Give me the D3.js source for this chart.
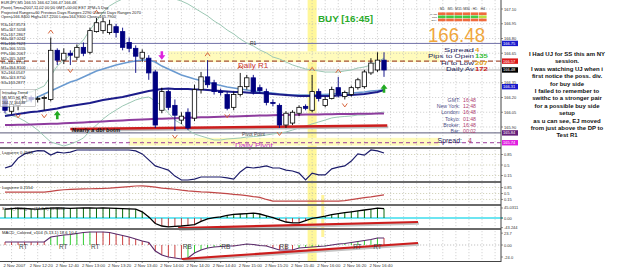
<!DOCTYPE html>
<html><head><meta charset="utf-8">
<script src="https://cdn.jsdelivr.net/npm/d3@7"></script>
<style>
body{margin:0;background:#fff;overflow:hidden}
text{font-family:"Liberation Sans",Arial,sans-serif}
</style></head>
<body><svg id="c" width="625" height="268"></svg>
<script>
// ---------------- DATA ----------------
const opens=[166.18,166.06,166.12,166.16,166.20,166.18,166.19,166.18,166.68,166.58,166.65,166.61,166.71,166.66,166.87,166.88,166.86,166.92,166.87,166.76,166.70,166.60,166.60,166.46,166.07,166.26,166.12,165.97,166.05,165.99,166.28,166.41,166.35,166.26,166.23,166.10,166.23,166.31,166.40,166.30,166.26,166.15,166.12,165.92,165.94,166.04,166.11,166.07,166.26,166.12,166.19,166.30,166.21,166.23,166.30,166.31,166.45,166.48,166.58];
const highs=[166.21,166.15,166.20,166.23,166.22,166.21,166.22,166.81,166.70,166.70,166.68,166.74,166.76,166.91,167.01,167.01,166.99,166.95,166.91,166.81,166.73,166.69,166.63,166.48,166.30,166.28,166.18,166.05,166.09,166.33,166.46,166.58,166.38,166.29,166.26,166.26,166.45,166.43,166.43,166.33,166.29,166.18,166.14,166.06,166.07,166.12,166.13,166.43,166.29,166.21,166.31,166.41,166.27,166.32,166.40,166.48,166.60,166.66,166.66];
const lows=[166.04,166.03,166.07,166.14,166.15,166.15,166.07,166.16,166.53,166.54,166.53,166.58,166.62,166.64,166.86,166.85,166.84,166.81,166.68,166.66,166.45,166.56,166.38,165.89,166.04,166.07,165.86,165.93,165.87,165.96,166.24,166.30,166.23,166.22,166.07,166.07,166.21,166.28,166.23,166.24,166.12,166.11,165.89,165.89,165.92,166.01,166.07,166.05,166.16,166.10,166.18,166.20,166.18,166.21,166.28,166.29,166.43,166.46,166.41];
const closes=[166.07,166.13,166.18,166.21,166.18,166.19,166.20,166.68,166.58,166.65,166.63,166.71,166.65,166.88,166.96,166.97,166.94,166.86,166.71,166.70,166.62,166.66,166.45,165.92,166.26,166.10,166.02,166.01,165.89,166.28,166.41,166.33,166.26,166.25,166.09,166.23,166.31,166.40,166.26,166.27,166.15,166.14,165.92,166.04,166.05,166.10,166.09,166.26,166.19,166.18,166.28,166.23,166.25,166.30,166.38,166.46,166.55,166.58,166.48];

const maNavy=[166.012,166.022,166.032,166.042,166.053,166.058,166.068,166.078,166.088,166.103,166.114,166.124,166.134,166.144,166.159,166.175,166.185,166.195,166.205,166.220,166.236,166.251,166.266,166.276,166.286,166.292,166.286,166.286,166.286,166.281,166.281,166.276,166.271,166.266,166.261,166.256,166.256,166.251,166.246,166.246,166.241,166.236,166.231,166.225,166.220,166.215,166.215,166.215,166.215,166.215,166.215,166.220,166.225,166.225,166.231,166.236,166.246,166.256,166.276];
const maBlue=[166.093,166.114,166.134,166.154,166.175,166.205,166.236,166.266,166.297,166.327,166.358,166.378,166.408,166.439,166.470,166.490,166.510,166.531,166.546,166.561,166.571,166.581,166.581,166.561,166.520,166.490,166.459,166.429,166.408,166.388,166.373,166.358,166.337,166.322,166.307,166.297,166.286,166.276,166.266,166.256,166.251,166.246,166.236,166.231,166.225,166.225,166.225,166.225,166.231,166.231,166.236,166.241,166.246,166.246,166.251,166.256,166.266,166.271,166.276];
const bandUpper=[166.231,166.236,166.241,166.251,166.256,166.286,166.317,166.419,166.520,166.581,166.632,166.714,166.785,166.886,166.978,167.069,167.131,167.171,167.202,167.232,167.242,167.253,167.253,167.242,167.237,167.222,167.202,167.181,167.151,167.110,167.069,167.029,166.978,166.937,166.886,166.846,166.795,166.754,166.724,166.683,166.653,166.612,166.592,166.561,166.531,166.510,166.490,166.480,166.470,166.459,166.459,166.459,166.470,166.480,166.500,166.510,166.531,166.561,166.602];
const bandLower=[166.037,166.017,165.997,165.961,165.920,165.869,165.808,165.748,165.727,165.707,165.727,165.753,165.788,165.859,165.920,165.981,166.032,166.073,166.114,166.144,166.175,166.195,166.205,166.164,166.114,166.042,165.971,165.931,165.869,165.829,165.808,165.788,165.768,165.768,165.778,165.783,165.788,165.798,165.803,165.808,165.819,165.829,165.839,165.849,165.869,165.890,165.910,165.931,165.951,165.971,165.992,166.002,166.007,166.012,166.022,166.022,166.032,166.042,166.053];
const maPurple=[165.920,165.920,165.922,165.924,165.926,165.928,165.930,165.932,165.934,165.937,165.941,165.944,165.947,165.951,165.954,165.957,165.961,165.964,165.967,165.971,165.974,165.977,165.980,165.983,165.985,165.987,165.989,165.992,165.994,165.996,165.998,166.000,166.002,166.004,166.006,166.008,166.010,166.012,166.014,166.016,166.018,166.020,166.022,166.023,166.024,166.025,166.026,166.027,166.028,166.029,166.030,166.031,166.032,166.033,166.034,166.035,166.036,166.037,166.038];

const fractalUp=[7,14,31,36,47,51];
const fractalDown=[2,6,10,26,34,42,52];
const buyArrowBars=[8,58], buyArrowPrices=[166.02,166.29];
const sellArrowBars=[24], sellArrowPrices=[166.63];

const levelNames=["R1","Daily R1","Bid","Pivot Point","Daily Pivot"];
const levelValues=[166.75,166.57,166.48,165.84,165.74];
const boxValues=[166.75,166.57,166.48,166.31,165.84,165.74];
const boxLabels=["166.75","166.57","166.48","166.31","165.84","165.74"];
const dblBottomLine=[[10,165.88],[58.5,165.915]];
const zoneR1={from:25,to:66.5,lo:166.56,hi:166.67};
const zonePivot={from:19,to:66.5,lo:165.71,hi:165.79};
const highlightBar=47;

const priceTicks=[167.10,166.95,166.80,166.65,166.50,166.35,166.20,166.05,165.90];
const priceTickLabels=["167.10","166.95","166.80","166.65","166.50","166.35","166.20","166.05","165.90"];

const dateIndex=[1,5,9,13,17,21,25,29,33,37,41,45,49,53,57];
const dateLabels=["2 Nov 2007","2 Nov 12:20","2 Nov 12:40","2 Nov 13:00","2 Nov 13:20","2 Nov 13:40","2 Nov 14:00","2 Nov 14:20","2 Nov 14:40","2 Nov 15:00","2 Nov 15:20","2 Nov 15:40","2 Nov 16:00","2 Nov 16:20","2 Nov 16:40"];

const laguerreFast=[0.40,0.47,0.73,0.87,0.93,0.98,0.97,0.83,0.93,0.90,0.93,1.0,1.0,1.0,1.0,1.0,1.0,1.0,1.0,1.0,0.97,0.87,0.67,0.47,0.40,0.33,0.13,0.0,0.0,0.03,0.10,0.10,0.10,0.10,0.07,0.03,0.27,0.43,0.40,0.43,0.47,0.40,0.40,0.33,0.30,0.23,0.0,0.23,0.17,0.17,0.37,0.43,0.47,0.63,0.87,0.83,1.0,0.97,0.90];
const laguerreSlow=[0.58,0.58,0.58,0.58,0.58,0.58,0.58,0.63,0.68,0.72,0.74,0.76,0.77,0.78,0.79,0.80,0.82,0.85,0.88,0.91,0.94,0.95,0.92,0.87,0.82,0.79,0.75,0.70,0.66,0.63,0.60,0.58,0.55,0.52,0.49,0.45,0.42,0.38,0.32,0.27,0.15,0.05,0.05,0.05,0.05,0.05,0.05,0.05,0.05,0.05,0.05,0.05,0.08,0.14,0.20,0.26,0.30,0.36,0.42];
const laguerreTicks=[0.85,0.5,0.15], laguerreTickLabels=["0.85","0.5","0.15"];
const stochHisto=[40,42,44,43,41,40,42,44,45,44,43,44,45,45,44,45,44,43,42,41,40,28,5,-25,-36,-40,-38,-36,-33,-30,-15,-4,2,5,12,16,18,20,22,18,10,2,-8,-18,-22,-22,-12,-2,3,8,15,20,24,28,32,36,40,44,42];
const stochTicks=[45.0311,0,-43.244], stochTickLabels=["45.0311","0.00","-43.244"];
const stochTrend=[[26.5,-45],[63.2,-18]];
const macdValues=[6,6,6,6,6,6,6,16,18,20,21,23,25,26,26,26,25,22,19,16,12,8,5,-12,-20,-24,-26,-28,-26,-16,-10,-6,-4,-3,-2,-2,0,2,1,-1,-2,-6,-10,-10,-10,-6,-5,-4,-3,-2,0,2,3,5,7,9,11,14,14];
const macdTicks=[23.7,0,-24], macdTickLabels=["23.7","0.00","-24.0"];
const macdTrend=[[27.1,-28],[63.2,4]];
const divIndex=[2.8,8.9,13.8,27.9,33.8,42.7,53.9,57];
const divLabels=["RT","RT","RT","RB","RB","RB","RT","RT"];

const headerLines=["EURJPY,M5  166.55 166.62 166.47 166.48","Pivots Time=2007.11.02 00:00 GMT+00:00 EST 1PM+5 Day","Projected Ranges=60 Previous Days Ranges 2290 Current Days Ranges 2070","Open=166.8400 High=167.2200 Low=164.9300 Close=165.7900"];
const pivotList=["R3=167.8573","M5=167.5058","R2=167.2867","M4=167.0242","R1=166.7623","M3=166.5555","PP=166.2067","M2=165.3487","S1=164.4733","M1=164.8100","S2=164.0547","M0=163.8750","S3=163.2877"];
const mtfCols=["M1","M5","M15","M30","H1","H4"];
const mtfRows=["MACD","STR","EMA"];
const mtfSignals=[[-1,-1,-1,-1,-1,-1],[1,1,1,1,1,0],[-1,-1,-1,-1,-1,-1]];
const infoLabels=["Spread","Pips to Open","Hi to Low","Daily Av"];
const infoValues=["4","135","207","172"];
const clockLabels=["GMT:","New York:","London:","Tokyo:","Broker:","Bar:"];
const clockValues=["16:48","12:48","16:48","01:48","16:48","00:02"];
const noteLines=["I Had UJ for SS this am NY","session.","I was watching UJ when i","first notice the poss. div.","for buy side","I failed to remember to","swithc to a stronger pair","for a possible buy side","setup","as u can see, EJ moved","from just above the DP to","Test R1"];

// ---------------- DRAW ----------------
const svg=d3.select("#c");
const N=opens.length;
const x=d3.scaleLinear().domain([0,58]).range([5,384]);
const yM=d3.scaleLinear().domain([165.75,167.10]).range([141.75,9]);
const yA=d3.scaleLinear().domain([0,1]).range([180,150]);
const yB=d3.scaleLinear().domain([0,1]).range([202,185]);
const yC=d3.scaleLinear().domain([-45,45]).range([228,208]);
const yD=d3.scaleLinear().domain([-32,32]).range([261,229]);
const AX=501;

svg.append("rect").attr("width",625).attr("height",268).attr("fill","#fff");
const defs=svg.append("defs");
defs.append("clipPath").attr("id","cm").append("rect").attr("x",0).attr("y",0).attr("width",AX).attr("height",147);

// yellow highlight zones
svg.append("rect").attr("x",x(highlightBar)-4.5).attr("y",0).attr("width",9).attr("height",261).attr("fill","#fff79a");
svg.append("rect").attr("x",x(48.4)).attr("y",195).attr("width",3).attr("height",42).attr("fill","#fff49a");
[zoneR1,zonePivot].forEach(z=>{
  svg.append("rect").attr("x",x(z.from)).attr("width",x(z.to)-x(z.from))
    .attr("y",yM(z.hi)).attr("height",yM(z.lo)-yM(z.hi)).attr("fill","#fffbbc");
});

// grids
const gridIdx=d3.range(1,76,2);
svg.append("g").selectAll("line").data(gridIdx).join("line")
  .attr("x1",d=>x(d)).attr("x2",d=>x(d)).attr("y1",0).attr("y2",261)
  .attr("stroke","#b8b8b8").attr("stroke-width",0.6).attr("stroke-dasharray","1.2,1.8");
svg.append("g").selectAll("line").data(priceTicks).join("line")
  .attr("x1",0).attr("x2",AX).attr("y1",d=>yM(d)).attr("y2",d=>yM(d))
  .attr("stroke","#b8b8b8").attr("stroke-width",0.6).attr("stroke-dasharray","1.2,1.8");
[yA,yB].forEach(s=>{
  svg.append("g").selectAll("line").data(laguerreTicks).join("line")
    .attr("x1",0).attr("x2",AX).attr("y1",d=>s(d)).attr("y2",d=>s(d))
    .attr("stroke","#b8b890").attr("stroke-width",0.6).attr("stroke-dasharray","1.2,1.8");
});
svg.append("line").attr("x1",0).attr("x2",AX).attr("y1",yD(0)).attr("y2",yD(0))
  .attr("stroke","#999").attr("stroke-width",0.6).attr("stroke-dasharray","1.2,1.8");

// main panel
const gm=svg.append("g").attr("clip-path","url(#cm)");
const levelStyle={"R1":{c:"#7272a8",w:1,d:null},"Daily R1":{c:"#a5513a",w:1.4,d:"5,3"},"Bid":{c:"#b4b4b4",w:1,d:null},"Pivot Point":{c:"#5a5a78",w:1,d:null},"Daily Pivot":{c:"#9a3c9a",w:1,d:"4,3"}};
levelNames.forEach((n,i)=>{
  const s=levelStyle[n];
  gm.append("line").attr("x1",0).attr("x2",AX).attr("y1",yM(levelValues[i])).attr("y2",yM(levelValues[i]))
    .attr("stroke",s.c).attr("stroke-width",s.w).attr("stroke-dasharray",s.d);
});
const lineM=d3.line().x((d,i)=>x(i)).y(d=>yM(d));
gm.append("path").attr("d",lineM(bandUpper)).attr("fill","none").attr("stroke","#9cc8b4").attr("stroke-width",1);
gm.append("path").attr("d",lineM(bandLower)).attr("fill","none").attr("stroke","#9cc8b4").attr("stroke-width",1);
gm.append("path").attr("d",lineM(maPurple)).attr("fill","none").attr("stroke","#8e3c9e").attr("stroke-width",2);
gm.append("path").attr("d",lineM(maBlue)).attr("fill","none").attr("stroke","#6a9ad0").attr("stroke-width",1.5);
gm.append("path").attr("d",lineM(maNavy)).attr("fill","none").attr("stroke","#1c1c8a").attr("stroke-width",2);
const tl=d3.line().x(d=>x(d[0])).y(d=>yM(d[1]));
gm.append("path").attr("d",tl(dblBottomLine)).attr("transform","translate(1,1.5)").attr("stroke","#bbb").attr("stroke-width",2.5).attr("fill","none");
gm.append("path").attr("d",tl(dblBottomLine)).attr("stroke","#cc1d1d").attr("stroke-width",2.5).attr("fill","none");

// candles
const idx=d3.range(N);
gm.append("g").selectAll("line").data(idx).join("line")
  .attr("x1",i=>x(i)).attr("x2",i=>x(i)).attr("y1",i=>yM(highs[i])).attr("y2",i=>yM(lows[i]))
  .attr("stroke",i=>closes[i]>=opens[i]?"#000":"#000080").attr("stroke-width",0.9);
gm.append("g").selectAll("rect").data(idx).join("rect")
  .attr("x",i=>x(i)-2.2).attr("width",4.4)
  .attr("y",i=>yM(Math.max(opens[i],closes[i])))
  .attr("height",i=>Math.max(0.8,Math.abs(yM(opens[i])-yM(closes[i]))))
  .attr("fill",i=>closes[i]>=opens[i]?"#fff":"#000080")
  .attr("stroke",i=>closes[i]>=opens[i]?"#000":"#000080").attr("stroke-width",0.8);

// fractals
gm.append("g").selectAll("path").data(fractalUp).join("path")
  .attr("d",i=>{const X=x(i),Y=yM(highs[i])-6;return `M${X-2.5},${Y+2}L${X},${Y-1.5}L${X+2.5},${Y+2}`;})
  .attr("fill","none").attr("stroke","#d8663e").attr("stroke-width",1);
gm.append("g").selectAll("path").data(fractalDown).join("path")
  .attr("d",i=>{const X=x(i),Y=yM(lows[i])+6;return `M${X-2.5},${Y-2}L${X},${Y+1.5}L${X+2.5},${Y-2}`;})
  .attr("fill","none").attr("stroke","#d8663e").attr("stroke-width",1);
buyArrowBars.forEach((b,k)=>{
  const X=x(b),Y=yM(buyArrowPrices[k]);
  gm.append("path").attr("d",`M${X-3.5},${Y}L${X},${Y-4.5}L${X+3.5},${Y}L${X+1.3},${Y}L${X+1.3},${Y+4}L${X-1.3},${Y+4}L${X-1.3},${Y}Z`).attr("fill","#22aa22");
});
sellArrowBars.forEach((b,k)=>{
  const X=x(b),Y=yM(sellArrowPrices[k]);
  gm.append("path").attr("d",`M${X-3.5},${Y}L${X},${Y+4.5}L${X+3.5},${Y}L${X+1.3},${Y}L${X+1.3},${Y-4}L${X-1.3},${Y-4}L${X-1.3},${Y}Z`).attr("fill","#dd22dd");
});

function txt(g,X,Y,s,size,fill,opt={}){
  const t=g.append("text").attr("x",X).attr("y",Y).text(s).attr("font-size",size).attr("fill",fill);
  if(opt.anchor)t.attr("text-anchor",opt.anchor);
  if(opt.bold)t.attr("font-weight","bold");
  if(opt.len)t.attr("textLength",opt.len).attr("lengthAdjust","spacingAndGlyphs");
  return t;
}
txt(svg,238,yM(levelValues[1])+7,"Daily R1",8,"#c8322a");
txt(svg,235,yM(levelValues[4])+5,"Daily Pivot",8,"#c832c8");
txt(svg,242,yM(levelValues[3])+3.5,"Pivot Point",4.8,"#444");
txt(svg,250,yM(levelValues[0])+2,"R1",5,"#333");
txt(svg,72,yM(dblBottomLine[0][1])+3,"Nearly a dbl botm",5.6,"#111",{bold:true,len:48});

headerLines.forEach((s,i)=>txt(svg,1,4.3+i*4.6,s,4,"#222"));
pivotList.forEach((s,i)=>txt(svg,1,26+i*4.8,s,4,"#222"));
svg.append("rect").attr("x",0.5).attr("y",89.5).attr("width",35).attr("height",17).attr("fill","#fff").attr("fill-opacity",0.7).attr("stroke","#999").attr("stroke-width",0.5);
txt(svg,2,94,"Intraday Trend",4,"#222");
txt(svg,2,99,"M5  M15  H1  H4",3.6,"#222");
txt(svg,2,104,"164.77 164.30",3.6,"#222");

// BUY signal and MTF table
txt(svg,318,22,"BUY  [16:45]",9.5,"#2aaa2a",{bold:true,len:55});
mtfCols.forEach((c,j)=>txt(svg,438+j*8.2+4,10,c,3.4,"#333",{anchor:"middle"}));
mtfRows.forEach((r,i)=>txt(svg,437,14.8+i*3.1,r,2.5,"#333",{anchor:"end"}));
mtfSignals.forEach((row,i)=>row.forEach((v,j)=>{
  svg.append("rect").attr("x",438+j*8.2).attr("y",12.4+i*3.1).attr("width",7.6).attr("height",2.7)
    .attr("fill",v>0?"#44cc44":v<0?"#f06a3c":"#b8e040");
}));
txt(svg,428,42,"166.48",21,"#f0a63c",{len:57});
const infoColors=["#e8a020","#33bb33","#e0a020","#cc2222"];
const infoLen=[30,46,33,28];
infoLabels.forEach((s,i)=>{
  txt(svg,474,52+i*6.3,s,5.6,"#1e1e5a",{anchor:"end",len:infoLen[i]});
  txt(svg,475,52+i*6.3,infoValues[i],5.6,infoColors[i],{bold:true,len:infoValues[i].length*4.3});
});
clockLabels.forEach((s,i)=>{
  txt(svg,460,102+i*6.2,s,5.2,"#50508a",{anchor:"end"});
  txt(svg,463,102+i*6.2,clockValues[i],5.2,"#b04070");
});
txt(svg,462,142.5,"Spread:",7,"#1e1e5a",{anchor:"end"});
txt(svg,468,142.5,"4",7,"#b04070");

// ---------------- indicator panels ----------------
const gA=svg.append("g");
gA.append("path").attr("d",d3.line().x((d,i)=>x(i)).y(d=>yA(d))(laguerreFast)).attr("fill","none").attr("stroke","#1c1c6a").attr("stroke-width",1.2);
txt(gA,2,154,"Laguerre 0.4533",4.2,"#222");
const gB=svg.append("g");
gB.append("path").attr("d",d3.line().x((d,i)=>x(i)).y(d=>yB(d))(laguerreSlow)).attr("fill","none").attr("stroke","#c04848").attr("stroke-width",1.2);
txt(gB,2,188.5,"Laguerre 0.2154",4.2,"#222");

const gC=svg.append("g");
gC.append("line").attr("x1",0).attr("x2",AX+2).attr("y1",yC(0)).attr("y2",yC(0)).attr("stroke","#3cdcec").attr("stroke-width",1.5);
gC.append("g").selectAll("line").data(idx).join("line")
  .attr("x1",i=>x(i)).attr("x2",i=>x(i)).attr("y1",yC(0)).attr("y2",i=>yC(stochHisto[i]))
  .attr("stroke",i=>stochHisto[i]>=0?"#0a6a0a":"#b84444").attr("stroke-width",1);
gC.append("path").attr("d",d3.line().x((d,i)=>x(i)).y(d=>yC(d))(stochHisto)).attr("fill","none").attr("stroke","#000").attr("stroke-width",1.3);
const tlC=d3.line().x(d=>x(d[0])).y(d=>yC(d[1]));
gC.append("path").attr("d",tlC(stochTrend)).attr("transform","translate(1,1.5)").attr("stroke","#c4c4c4").attr("stroke-width",2.5).attr("fill","none");
gC.append("path").attr("d",tlC(stochTrend)).attr("stroke","#cc1d1d").attr("stroke-width",2.2).attr("fill","none");
txt(gC,2,210,"Stoch_Histogram(14,3,3) 39.0686",4.2,"#222");

const gD=svg.append("g");
gD.append("g").selectAll("line").data(idx).join("line")
  .attr("x1",i=>x(i)).attr("x2",i=>x(i)).attr("y1",yD(0)).attr("y2",i=>yD(macdValues[i]))
  .attr("stroke",i=>i>0&&macdValues[i]>macdValues[i-1]?"#33cc33":"#cc4040").attr("stroke-width",1);
gD.append("path").attr("d",d3.line().x((d,i)=>x(i)).y(d=>yD(d))(macdValues)).attr("fill","none").attr("stroke","#5a2a6a").attr("stroke-width",1.2);
const tlD=d3.line().x(d=>x(d[0])).y(d=>yD(d[1]));
gD.append("path").attr("d",tlD(macdTrend)).attr("transform","translate(1,1.5)").attr("stroke","#c4c4c4").attr("stroke-width",2.5).attr("fill","none");
gD.append("path").attr("d",tlD(macdTrend)).attr("stroke","#cc1d1d").attr("stroke-width",2.2).attr("fill","none");
gD.selectAll("text.dv").data(divIndex).join("text").attr("class","dv")
  .attr("x",d=>x(d)).attr("y",yD(-8)).attr("text-anchor","middle").attr("font-size",6.5).attr("fill","#444")
  .text((d,i)=>divLabels[i]);
txt(gD,2,234,"MACD_Colored_v104 (5,13,1) 18.6 10.4",4.2,"#222");

// separators and axis frame
[148,182,205,229].forEach(Y=>svg.append("line").attr("x1",0).attr("x2",AX).attr("y1",Y).attr("y2",Y).attr("stroke","#6a6a6a").attr("stroke-width",1.8));
svg.append("line").attr("x1",0).attr("x2",AX).attr("y1",261.5).attr("y2",261.5).attr("stroke","#444").attr("stroke-width",1);
svg.append("line").attr("x1",AX).attr("x2",AX).attr("y1",0).attr("y2",262).attr("stroke","#444").attr("stroke-width",1);

// right axes (tick labels hidden under a price box are skipped, as in the reference)
const axisText=(vals,labels,scale,skip)=>vals.forEach((v,i)=>{
  svg.append("line").attr("x1",AX).attr("x2",AX+2).attr("y1",scale(v)).attr("y2",scale(v)).attr("stroke","#444").attr("stroke-width",0.6);
  if(skip&&skip(v))return;
  txt(svg,AX+3,scale(v)+1.5,labels[i],4,"#333");
});
axisText(priceTicks,priceTickLabels,yM,v=>boxValues.some(b=>Math.abs(yM(b)-yM(v))<3));
axisText(laguerreTicks,laguerreTickLabels,yA);
axisText(laguerreTicks,laguerreTickLabels,yB);
axisText(stochTicks,stochTickLabels,yC);
axisText(macdTicks,macdTickLabels,yD);
const boxColors=["#1a1acc","#dd1a1a","#000","#1a1acc","#66207a","#e020e0"];
boxValues.forEach((v,i)=>{
  svg.append("rect").attr("x",AX+1).attr("y",yM(v)-2.7).attr("width",16).attr("height",5.4).attr("fill",boxColors[i]);
  txt(svg,AX+2,yM(v)+1.5,boxLabels[i],4,"#fff");
});

// date axis
dateIndex.forEach((d,i)=>{
  svg.append("line").attr("x1",x(d)).attr("x2",x(d)).attr("y1",261.5).attr("y2",263).attr("stroke","#444").attr("stroke-width",0.6);
  txt(svg,x(d)-8,267,dateLabels[i],4.3,"#333");
});

// notes
noteLines.forEach((s,i)=>txt(svg,567,56+i*7.4,s,6,"#111",{anchor:"middle",bold:true}));
</script></body></html>
